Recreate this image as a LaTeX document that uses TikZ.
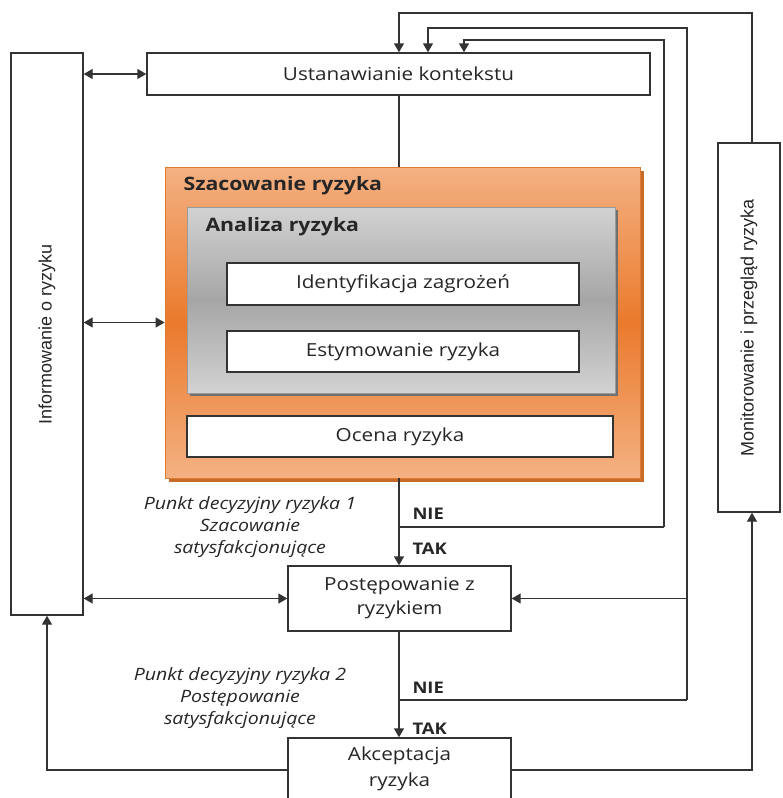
\documentclass[tikz,border=0pt]{standalone}
\usepackage{fontspec}
\setmainfont[FakeStretch=1.15]{Open Sans}
\newfontfamily\sidefont{Liberation Sans}
\usetikzlibrary{arrows.meta}

\definecolor{lineC}{HTML}{333333}
\definecolor{orLight}{HTML}{F4B183}
\definecolor{orDark}{HTML}{EA7A2C}
\definecolor{orEdge}{HTML}{E07A30}
\definecolor{orShadow}{HTML}{C86A28}
\definecolor{grLight}{HTML}{D2D2D2}
\definecolor{grDark}{HTML}{A6A6A6}
\definecolor{grEdge}{HTML}{9A9A9A}
\definecolor{grShadow}{HTML}{707070}

\tikzset{
  plainbox/.style={draw=lineC, line width=1.4pt, fill=white, inner sep=2pt,
    font=\fontsize{18}{24}\selectfont, text=black!85, align=center},
  tip/.tip={Triangle[length=9pt,width=10pt]},
  arr/.style={draw=lineC, line width=1.4pt, -tip},
  darr/.style={draw=lineC, line width=1.4pt, tip-tip},
  conn/.style={draw=lineC, line width=1.4pt},
  yesno/.style={font=\bfseries\fontsize{16}{18}\selectfont, anchor=west, text=black!85},
  decision/.style={font=\itshape\fontsize{17}{22}\selectfont, align=center, text=black!85},
  grouptitle/.style={font=\bfseries\fontsize{18.5}{20}\selectfont, anchor=west, text=black!85},
  sidelabel/.style={font=\sidefont\fontsize{18}{20}\selectfont, rotate=90, text=black!85},
}

\begin{document}
\begin{tikzpicture}[x=1pt,y=-1pt]
\useasboundingbox (0,0) rectangle (782,798);

% side boxes
\node[plainbox, minimum width=72pt, minimum height=562pt] (info) at (47,334) {};
\node[sidelabel] (infot) at (info.center) {Informowanie o ryzyku};
\node[plainbox, minimum width=62pt, minimum height=369pt] (mon) at (749,327.5) {};
\node[sidelabel] (mont) at (mon.center) {Monitorowanie i przegląd ryzyka};

% context
\node[plainbox, minimum width=503pt, minimum height=42pt] (ust) at (398.5,74) {Ustanawianie kontekstu};

% risk assessment group
\fill[orShadow] (169,171) rectangle (644,482);
\node[draw=orEdge, line width=0.8pt, top color=orLight, bottom color=orLight, middle color=orDark,
  minimum width=475pt, minimum height=311pt, inner sep=0pt] (orange) at (402.5,322.5) {};
\node[grouptitle] (szt) at (180,186) {Szacowanie ryzyka};

\fill[grShadow] (190,210) rectangle (618,396);
\node[draw=grEdge, line width=0.8pt, top color=grLight, bottom color=grLight, middle color=grDark,
  minimum width=428pt, minimum height=186pt, inner sep=0pt] (gray) at (401,300) {};
\node[grouptitle] (ant) at (202,227) {Analiza ryzyka};

\node[plainbox, minimum width=352pt, minimum height=42pt] (ident) at (403,284) {Identyfikacja zagrożeń};
\node[plainbox, minimum width=352pt, minimum height=41pt] (estym) at (403,351.5) {Estymowanie ryzyka};
\node[plainbox, minimum width=426pt, minimum height=41pt] (ocena) at (400,436.5) {Ocena ryzyka};

% treatment and acceptance
\node[plainbox, minimum width=223pt, minimum height=65pt] (post) at (399.5,598.5) {};
\node[font=\fontsize{18}{24}\selectfont, align=center, text=black!85] (postt) at (399.5,598.5) {Postępowanie z\\ryzykiem};
\node[plainbox, minimum width=223pt, minimum height=68pt] (akc) at (399.5,772) {};
\node[font=\fontsize{18}{26}\selectfont, align=center, text=black!85] (akct) at (399.5,769) {Akceptacja\\ryzyka};

% routing coordinates
\coordinate (r1) at (752,13);
\coordinate (r2) at (687,28);
\coordinate (r3) at (664,40);
\coordinate (t1) at (399,0);
\coordinate (t2) at (428,0);
\coordinate (t3) at (464,0);
\coordinate (j1) at (399,527);
\coordinate (j2) at (399,700);
\coordinate (c3) at (664,527);
\coordinate (c2) at (687,700);

% feedback loops into context
\draw[arr] (mon.north -| r1) -- (r1) -| (t1 |- ust.north);
\draw[arr] (c2) -- (r2) -| (t2 |- ust.north);
\draw[arr] (c3) -- (r3) -| (t3 |- ust.north);
\draw[conn] (j1) -- (c3);
\draw[conn] (j2) -- (c2);
\draw[arr] (c2 |- post.east) -- (post.east);

% main flow
\draw[conn] (ust.south -| t1) -- (orange.north -| t1);
\draw[arr] (orange.south -| t1) -- (post.north -| t1);
\draw[arr] (post.south -| t1) -- (akc.north -| t1);
\draw[arr] (akc.west |- 0,770) -| (info.south);
\draw[arr] (akc.east |- 0,770) -| (mon.south -| r1);

% communication
\draw[darr] (info.east |- ust.west) -- (ust.west);
\draw[darr] (info.east |- orange.west) -- (orange.west);
\draw[darr] (info.east |- post.west) -- (post.west);

% decision labels
\node[yesno] (nie1) at (409,514) {NIE};
\node[yesno] (tak1) at (409,549) {TAK};
\node[yesno] (nie2) at (409,688) {NIE};
\node[yesno] (tak2) at (409,729) {TAK};
\node[decision] (d1) at (250,527) {Punkt decyzyjny ryzyka 1\\Szacowanie\\satysfakcjonujące};
\node[decision] (d2) at (240,698) {Punkt decyzyjny ryzyka 2\\Postępowanie\\satysfakcjonujące};
\end{tikzpicture}
\end{document}
